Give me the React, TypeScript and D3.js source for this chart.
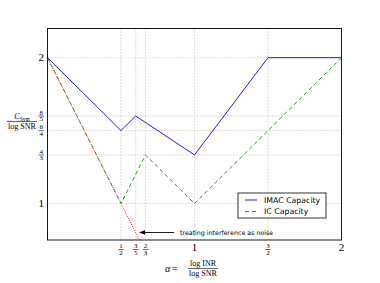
import * as d3 from 'd3';

// alpha = log INR / log SNR
const imacAlpha = [0, 1 / 2, 3 / 5, 1, 3 / 2, 2];
const imacValue = [2, 3 / 2, 8 / 5, 4 / 3, 2, 2];
const icAlpha = [0, 1 / 2, 2 / 3, 1, 2];
const icValue = [2, 1, 4 / 3, 1, 2];
const tinAlpha = [0, 1];
const tinValue = [2, 0];

const xTicks = [1 / 2, 3 / 5, 2 / 3, 1, 3 / 2, 2];
const xTickLabels = [['1', '2'], ['3', '5'], ['2', '3'], ['1'], ['3', '2'], ['2']];
const yTicks = [1, 4 / 3, 3 / 2, 8 / 5, 2];
const yTickLabels = [['1'], ['4', '3'], ['6', '4'], ['8', '5'], ['2']];

const W = 380;
const H = 283;
const PLOT = { left: 47.5, right: 341.5, top: 28.5, bottom: 240 };
const MATH = '"Liberation Serif", "DejaVu Serif", serif';
const SANS = '"DejaVu Sans", sans-serif';

function Frac({ x, y, num, den, size, anchor = 'middle' }: { x: number; y: number; num: string; den: string; size: number; anchor?: string }) {
  // y is the fraction bar position
  const w = Math.max(num.length, den.length) * size * 0.5 + 2;
  const x0 = anchor === 'end' ? x - w : x - w / 2;
  return (
    <g fontFamily={MATH} fontSize={size} fill="#000">
      <text x={x0 + w / 2} y={y - 1.2} textAnchor="middle">{num}</text>
      <line x1={x0} x2={x0 + w} y1={y} y2={y} stroke="#000" strokeWidth={0.6} />
      <text x={x0 + w / 2} y={y + size * 0.78} textAnchor="middle">{den}</text>
    </g>
  );
}

export default function App() {
  const x = d3.scaleLinear().domain([0, 2]).range([PLOT.left, PLOT.right]);
  const y = d3.scaleLinear().domain([0.75, 2.2]).range([PLOT.bottom, PLOT.top]);
  const line = d3.line<[number, number]>().x((d) => x(d[0])).y((d) => y(d[1]));

  const imac = line(imacAlpha.map((a, i) => [a, imacValue[i]]))!;
  const ic = line(icAlpha.map((a, i) => [a, icValue[i]]))!;
  const tin = line(tinAlpha.map((a, i) => [a, tinValue[i]]))!;

  const arrowY = 232.5;

  return (
    <svg width={W} height={H} style={{ position: 'absolute', left: 0, top: 0, background: '#fff' }}>
      {/* grid */}
      {xTicks.map((t, i) => (
        <line key={'gx' + i} x1={x(t)} x2={x(t)} y1={PLOT.top} y2={PLOT.bottom} stroke="#aaa" strokeWidth={0.7} strokeDasharray="1,2" />
      ))}
      {yTicks.map((t, i) => (
        <line key={'gy' + i} x1={PLOT.left} x2={PLOT.right} y1={y(t)} y2={y(t)} stroke="#aaa" strokeWidth={0.7} strokeDasharray="1,2" />
      ))}

      <g fill="none">
        <path d={tin} stroke="#ff2a2a" strokeWidth={1} strokeDasharray="1,1.3" />
        <path d={ic} stroke="#2e9a2e" strokeWidth={1} strokeDasharray="4,3" />
        <path d={imac} stroke="#0000ff" strokeWidth={0.9} />
      </g>

      {/* hide whatever runs below the axes */}
      <rect x={0} y={PLOT.bottom} width={W} height={H - PLOT.bottom} fill="#fff" />

      {/* frame */}
      <rect x={PLOT.left} y={PLOT.top} width={PLOT.right - PLOT.left} height={PLOT.bottom - PLOT.top} fill="none" stroke="#000" strokeWidth={0.9} />

      {/* x tick labels */}
      {xTicks.map((t, i) => {
        const lab = xTickLabels[i];
        if (lab.length === 1) {
          return (
            <text key={'xl' + i} x={x(t)} y={251} textAnchor="middle" fontFamily={MATH} fontSize={11}>{lab[0]}</text>
          );
        }
        return <Frac key={'xl' + i} x={x(t)} y={249.5} num={lab[0]} den={lab[1]} size={7} />;
      })}

      {/* y tick labels */}
      {yTicks.map((t, i) => {
        const lab = yTickLabels[i];
        if (lab.length === 1) {
          return (
            <text key={'yl' + i} x={44} y={y(t) + 3.8} textAnchor="end" fontFamily={MATH} fontSize={11}>{lab[0]}</text>
          );
        }
        return <Frac key={'yl' + i} x={44} y={y(t)} num={lab[0]} den={lab[1]} size={7} anchor="end" />;
      })}

      {/* y axis label */}
      <g fontFamily={MATH} fontSize={8}>
        <text x={22} y={119} textAnchor="middle">
          <tspan fontStyle="italic">C</tspan>
          <tspan fontSize={5.5} dy={1.5}>Sym</tspan>
        </text>
        <line x1={7} x2={37} y1={121.5} y2={121.5} stroke="#000" strokeWidth={0.6} />
        <text x={22} y={128.5} textAnchor="middle">log SNR</text>
      </g>

      {/* x axis label */}
      <g fontFamily={MATH} fontSize={8}>
        <text x={165} y={271.5} fontStyle="italic" fontSize={10}>α</text>
        <text x={172} y={271.5} fontSize={10}>=</text>
        <text x={203} y={265.5} textAnchor="middle">log INR</text>
        <line x1={188} x2={218} y1={268.5} y2={268.5} stroke="#000" strokeWidth={0.6} />
        <text x={203} y={276} textAnchor="middle">log SNR</text>
      </g>

      {/* annotation */}
      <line x1={174} x2={143} y1={arrowY} y2={arrowY} stroke="#000" strokeWidth={0.9} />
      <path d={`M139,${arrowY} L145,${arrowY - 2.2} L145,${arrowY + 2.2} Z`} fill="#000" />
      <text x={180} y={arrowY + 2.2} fontFamily={SANS} fontSize={6.3}>treating interference as noise</text>

      {/* legend */}
      <g>
        <rect x={238} y={193} width={88} height={25} fill="#fff" stroke="#000" strokeWidth={0.8} />
        <line x1={245} x2={257} y1={200} y2={200} stroke="#0000ff" strokeWidth={0.9} />
        <text x={264} y={202.8} fontFamily={SANS} fontSize={7.8}>IMAC Capacity</text>
        <line x1={245} x2={257} y1={211.5} y2={211.5} stroke="#2e9a2e" strokeWidth={1} strokeDasharray="4,3" />
        <text x={264} y={214.3} fontFamily={SANS} fontSize={7.8}>IC Capacity</text>
      </g>
    </svg>
  );
}
